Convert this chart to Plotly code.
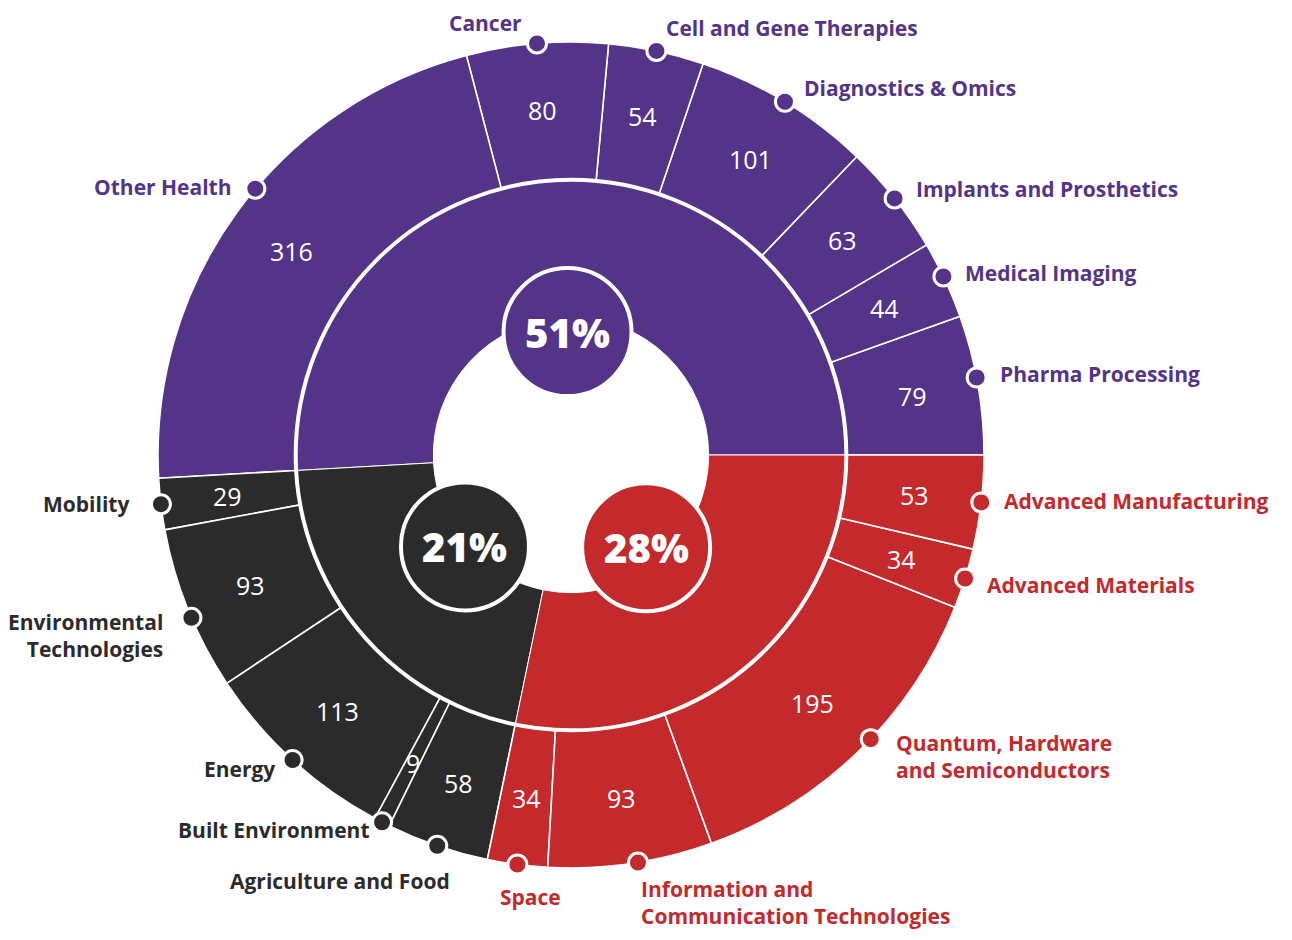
import math
import plotly.graph_objects as go

# ---------------- data ----------------
group_names = ["Health", "Climate & Sustainability", "Deep Tech"]
group_colors = ["#533489", "#2B2B2B", "#C4292B"]

health_labels = ["Pharma Processing", "Medical Imaging", "Implants and Prosthetics",
                 "Diagnostics & Omics", "Cell and Gene Therapies", "Cancer", "Other Health"]
health_values = [79, 44, 63, 101, 54, 80, 316]

climate_labels = ["Mobility", "Environmental<br>Technologies", "Energy",
                  "Built Environment", "Agriculture and Food"]
climate_values = [29, 93, 113, 9, 58]

tech_labels = ["Space", "Information and<br>Communication Technologies",
               "Quantum, Hardware<br>and Semiconductors", "Advanced Materials",
               "Advanced Manufacturing"]
tech_values = [34, 93, 195, 34, 53]

# ---------------- styling / geometry ----------------
W, H = 1276, 924                    # page has an 8px body margin
CX, CY, R = 563, 447, 413           # pixel centre and outer radius
RING = R / 3.0                      # sunburst ring width (root + 2 levels)
FONT = "Open Sans"

# label placement (styling only): dx, dy from the dot, xanchor, angular nudge of dot (deg)
label_style = {
    "Pharma Processing": (21, -3, "left", 1.0),
    "Medical Imaging": (20, -3, "left", 0.5),
    "Implants and Prosthetics": (19, -9, "left", 0),
    "Diagnostics & Omics": (17, -14, "left", 0),
    "Cell and Gene Therapies": (8, -23, "left", 0),
    "Cancer": (-13, -20, "right", 0),
    "Other Health": (-21, -2, "right", -4.1),
    "Mobility": (-30, 0, "right", 0),
    "Environmental<br>Technologies": (-26, 18, "right", 1.2),
    "Energy": (-16, 9, "right", 0),
    "Built Environment": (-10, 8, "right", 0),
    "Agriculture and Food": (15, 35, "right", 0),
    "Space": (13, 32, "center", 0),
    "Information and<br>Communication Technologies": (1, 40, "left", 1.0),
    "Quantum, Hardware<br>and Semiconductors": (23, 17, "left", 2.4),
    "Advanced Materials": (20, 6, "left", 0),
    "Advanced Manufacturing": (21, -1, "left", 0),
}
bubble_radius_from_centre = [123, 140, 119]
BUBBLE_R = 64
DOT_R = 9.5

groups = [
    (group_names[0], group_colors[0], health_labels, health_values),
    (group_names[1], group_colors[1], climate_labels, climate_values),
    (group_names[2], group_colors[2], tech_labels, tech_values),
]

total = sum(sum(g[3]) for g in groups)

# ---------------- sunburst ----------------
ids, labels, parents, values, colors, lw = ["root"], [""], [""], [total], ["white"], [0]
for gname, gcol, labs, vals in groups:
    ids.append(gname); labels.append(gname); parents.append("root")
    values.append(sum(vals)); colors.append(gcol); lw.append(1.0)
for gname, gcol, labs, vals in groups:
    for l, v in zip(labs, vals):
        ids.append(gname + "/" + l); labels.append(l.replace("<br>", " "))
        parents.append(gname); values.append(v); colors.append(gcol); lw.append(1.6)

sun = go.Sunburst(
    ids=ids, labels=labels, parents=parents, values=values,
    branchvalues="total", sort=False, rotation=0,
    marker=dict(colors=colors, line=dict(color="white", width=lw)),
    leaf=dict(opacity=1),
    textinfo="none", hoverinfo="label+value",
    domain=dict(x=[(CX - R) / W, (CX + R) / W],
                y=[(H - CY - R) / H, (H - CY + R) / H]),
)

fig = go.Figure(sun)


def pt(angle_deg, r):
    a = math.radians(angle_deg)
    return CX + r * math.cos(a), CY - r * math.sin(a)


def circle(x, y, r, fill, lwidth):
    fig.add_shape(type="circle", xref="x", yref="y", layer="above",
                  x0=x - r, x1=x + r, y0=y - r, y1=y + r,
                  fillcolor=fill, line=dict(color="white", width=lwidth))


# white ring between inner and outer level
fig.add_shape(type="circle", xref="x", yref="y", layer="above",
              x0=CX - 2 * RING, x1=CX + 2 * RING, y0=CY - 2 * RING, y1=CY + 2 * RING,
              line=dict(color="white", width=4))

# ---------------- outer values, dots, labels ----------------
cum = 0
for gname, gcol, labs, vals in groups:
    for l, v in zip(labs, vals):
        mid = 360.0 * (cum + v / 2.0) / total
        cum += v
        nx, ny = pt(mid, 2.5 * RING + 2)
        fig.add_annotation(x=nx, y=ny, xref="x", yref="y", text=str(v), showarrow=False,
                           font=dict(family=FONT, size=25, color="white"))
        ox, oy, anchor, nudge = label_style[l]
        dx_, dy_ = pt(mid + nudge, R)
        circle(dx_, dy_, DOT_R, gcol, 3)
        fig.add_annotation(
            x=dx_ + ox, y=dy_ + oy, xref="x", yref="y", text=l, showarrow=False,
            xanchor=anchor, yanchor="middle", align=anchor,
            font=dict(family=FONT, size=21, color=gcol, weight="bold"),
        )

# ---------------- percentage bubbles ----------------
cum = 0
for (gname, gcol, labs, vals), br in zip(groups, bubble_radius_from_centre):
    s = sum(vals)
    mid = 360.0 * (cum + s / 2.0) / total
    cum += s
    x, y = pt(mid, br)
    circle(x, y, BUBBLE_R, gcol, 4)
    fig.add_annotation(x=x, y=y, xref="x", yref="y", text=f"{round(100 * s / total)}%",
                       showarrow=False,
                       font=dict(family=FONT, size=40, color="white", weight=800))

fig.update_layout(
    width=W, height=H, margin=dict(l=0, r=0, t=0, b=0),
    paper_bgcolor="white", plot_bgcolor="rgba(0,0,0,0)", showlegend=False,
    xaxis=dict(range=[0, W], visible=False, fixedrange=True),
    yaxis=dict(range=[H, 0], visible=False, fixedrange=True),
)

fig.write_html("out.html")
